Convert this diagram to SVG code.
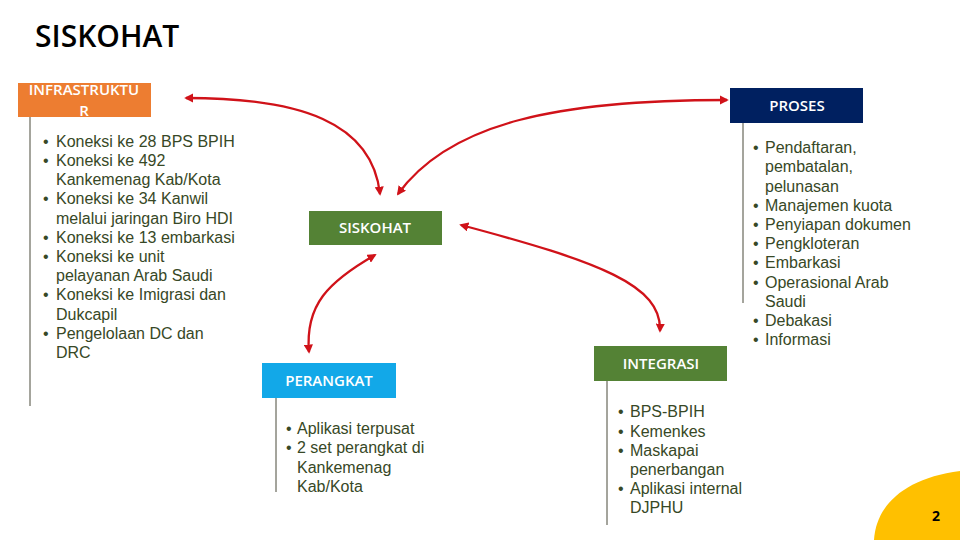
<svg xmlns="http://www.w3.org/2000/svg" width="960" height="540" viewBox="0 0 960 540">
<defs>
<style>
.title{font-family:"Open Sans","Noto Sans",sans-serif;font-size:30px;font-weight:600;fill:#000}
.hdr{font-family:"Open Sans","Noto Sans",sans-serif;font-size:15px;font-weight:600;fill:#fff;text-anchor:middle}
.b{font-family:"Liberation Sans",Arial,sans-serif;font-size:16px;fill:#374826}
.vl{stroke:#4a4a3a;stroke-width:1}
.arr{fill:none;stroke:#d01219;stroke-width:2.3;marker-start:url(#ah);marker-end:url(#ah)}
</style>
<marker id="ah" viewBox="0 0 10 10" refX="8" refY="5" markerWidth="4" markerHeight="4" orient="auto-start-reverse" markerUnits="strokeWidth">
<path d="M0,0 L10,5 L0,10 Z" fill="#d01219"/>
</marker>
</defs>
<rect width="960" height="540" fill="#fff"/>
<text class="title" x="35" y="47">SISKOHAT</text>

<g id="connectors">
<path class="arr" d="M186,98 C300,98 372,122 380,194"/>
<path class="arr" d="M398,194 C450,122 560,100 727,100"/>
<path class="arr" d="M375,255 C328,282 305,305 309,352"/>
<path class="arr" d="M461,225 C600,262 662,285 660,331"/>
</g>

<g id="infrastruktur">
<rect x="18" y="83" width="133" height="34" fill="#ed7d31"/>
<text class="hdr" x="84" y="95">INFRASTRUKTU<tspan x="84" y="116">R</tspan></text>
<line class="vl" x1="30" y1="117" x2="30" y2="406"/>
<text class="b"><tspan x="43" y="147">•</tspan><tspan x="56" y="147">Koneksi ke 28 BPS BPIH</tspan><tspan x="43" y="166">•</tspan><tspan x="56" y="166">Koneksi ke 492</tspan><tspan x="56" y="185">Kankemenag Kab/Kota</tspan><tspan x="43" y="204">•</tspan><tspan x="56" y="204">Koneksi ke 34 Kanwil</tspan><tspan x="56" y="224">melalui jaringan Biro HDI</tspan><tspan x="43" y="243">•</tspan><tspan x="56" y="243">Koneksi ke 13 embarkasi</tspan><tspan x="43" y="262">•</tspan><tspan x="56" y="262">Koneksi ke unit</tspan><tspan x="56" y="281">pelayanan Arab Saudi</tspan><tspan x="43" y="300">•</tspan><tspan x="56" y="300">Koneksi ke Imigrasi dan</tspan><tspan x="56" y="320">Dukcapil</tspan><tspan x="43" y="339">•</tspan><tspan x="56" y="339">Pengelolaan DC dan</tspan><tspan x="56" y="358">DRC</tspan></text>
</g>

<g id="proses">
<rect x="730" y="88" width="133" height="35" fill="#002060"/>
<text class="hdr" x="797" y="111">PROSES</text>
<line class="vl" x1="743" y1="123" x2="743" y2="303"/>
<text class="b"><tspan x="753" y="153">•</tspan><tspan x="765" y="153">Pendaftaran,</tspan><tspan x="765" y="172">pembatalan,</tspan><tspan x="765" y="192">pelunasan</tspan><tspan x="753" y="211">•</tspan><tspan x="765" y="211">Manajemen kuota</tspan><tspan x="753" y="230">•</tspan><tspan x="765" y="230">Penyiapan dokumen</tspan><tspan x="753" y="249">•</tspan><tspan x="765" y="249">Pengkloteran</tspan><tspan x="753" y="268">•</tspan><tspan x="765" y="268">Embarkasi</tspan><tspan x="753" y="288">•</tspan><tspan x="765" y="288">Operasional Arab</tspan><tspan x="765" y="307">Saudi</tspan><tspan x="753" y="326">•</tspan><tspan x="765" y="326">Debakasi</tspan><tspan x="753" y="345">•</tspan><tspan x="765" y="345">Informasi</tspan></text>
</g>

<g id="siskohat">
<rect x="309" y="211" width="133" height="34" fill="#548235"/>
<text class="hdr" x="375" y="233">SISKOHAT</text>
</g>

<g id="perangkat">
<rect x="262" y="363" width="134" height="35" fill="#12a8e8"/>
<text class="hdr" x="329" y="386">PERANGKAT</text>
<line class="vl" x1="276" y1="398" x2="276" y2="492"/>
<text class="b"><tspan x="286" y="434">•</tspan><tspan x="297" y="434">Aplikasi terpusat</tspan><tspan x="286" y="453">•</tspan><tspan x="297" y="453">2 set perangkat di</tspan><tspan x="297" y="473">Kankemenag</tspan><tspan x="297" y="492">Kab/Kota</tspan></text>
</g>

<g id="integrasi">
<rect x="594" y="346" width="133" height="35" fill="#548235"/>
<text class="hdr" x="661" y="369">INTEGRASI</text>
<line class="vl" x1="607" y1="381" x2="607" y2="525"/>
<text class="b"><tspan x="618" y="417">•</tspan><tspan x="630" y="417">BPS-BPIH</tspan><tspan x="618" y="437">•</tspan><tspan x="630" y="437">Kemenkes</tspan><tspan x="618" y="456">•</tspan><tspan x="630" y="456">Maskapai</tspan><tspan x="630" y="475">penerbangan</tspan><tspan x="618" y="494">•</tspan><tspan x="630" y="494">Aplikasi internal</tspan><tspan x="630" y="513">DJPHU</tspan></text>
</g>

<g id="page">
<path d="M874,540 C876,505 905,478 960,471 L960,540 Z" fill="#ffc000"/>
<text x="936" y="521" font-family="Open Sans, Noto Sans, sans-serif" font-size="14" font-weight="700" fill="#000" text-anchor="middle">2</text>
</g>
</svg>
